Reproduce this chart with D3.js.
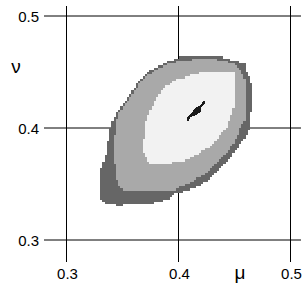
<!DOCTYPE html>
<meta charset="utf-8">
<style>
body { margin: 0; background: #fff; }
svg text { font-family: "Liberation Sans", Arial, sans-serif; fill: #000; }
.tick { font-size: 15px; }
.sym { font-size: 19px; }
</style>
<svg width="304" height="286"></svg>
<script src="https://d3js.org/d3.v7.min.js"></script>
<script>

// tick values on both axes
const muTicks = [0.3, 0.4, 0.5];
const nuTicks = [0.3, 0.4, 0.5];
const tickLabels = ["0.3", "0.4", "0.5"];

// region outlines, as [mu, nu]
const regionOuter = [
  [0.40286, 0.46429], [0.43857, 0.46384], [0.44866, 0.46027], [0.45938, 0.45777],
  [0.46116, 0.44911], [0.46518, 0.44018], [0.46518, 0.41607], [0.46384, 0.40000],
  [0.46089, 0.39375], [0.45786, 0.38929], [0.45045, 0.37884], [0.44152, 0.36848],
  [0.43259, 0.35955], [0.42071, 0.34911], [0.40875, 0.34464], [0.39688, 0.34107],
  [0.38946, 0.33571], [0.37902, 0.33304], [0.35670, 0.33125], [0.34598, 0.33080],
  [0.33438, 0.33259], [0.33080, 0.33571], [0.32991, 0.34643], [0.32991, 0.36098],
  [0.33438, 0.37295], [0.33732, 0.39080], [0.33973, 0.40268], [0.34571, 0.41455],
  [0.35223, 0.42348], [0.35821, 0.43241], [0.36411, 0.44134], [0.37304, 0.45027],
  [0.38080, 0.45446], [0.38795, 0.45830], [0.39509, 0.46027]
];
const regionMiddle = [
  [0.40286, 0.46009], [0.41741, 0.46161], [0.42964, 0.46161], [0.43857, 0.46009],
  [0.44866, 0.45777], [0.45580, 0.45179], [0.45938, 0.44286], [0.46089, 0.43393],
  [0.46027, 0.41607], [0.45938, 0.40714], [0.45643, 0.40268], [0.45045, 0.38777],
  [0.44152, 0.37589], [0.42634, 0.36098], [0.41179, 0.35205], [0.39955, 0.34643],
  [0.39688, 0.34420], [0.35223, 0.34313], [0.34777, 0.34643], [0.34482, 0.35357],
  [0.34241, 0.37143], [0.34286, 0.38929], [0.34330, 0.40268], [0.34732, 0.41429],
  [0.35402, 0.42321], [0.35982, 0.43214], [0.36563, 0.44018], [0.37455, 0.44866],
  [0.38259, 0.45313], [0.38929, 0.45670], [0.39688, 0.45848]
];
const regionInner = [
  [0.40429, 0.44438], [0.41027, 0.44732], [0.41920, 0.44938], [0.44893, 0.44938],
  [0.45045, 0.44732], [0.45045, 0.42232], [0.44777, 0.41429], [0.44598, 0.41009],
  [0.44446, 0.40268], [0.43527, 0.39107], [0.42634, 0.38214], [0.42098, 0.37946],
  [0.40848, 0.37143], [0.39688, 0.36964], [0.38795, 0.36741], [0.37723, 0.36786],
  [0.37277, 0.36991], [0.36830, 0.37884], [0.36920, 0.39375], [0.37009, 0.40268],
  [0.37455, 0.41607], [0.38054, 0.42795], [0.38795, 0.43688], [0.39688, 0.44286]
];
const regionCore = [
  [0.40732, 0.40652], [0.40732, 0.40866], [0.41179, 0.41339], [0.41473, 0.41786],
  [0.41982, 0.42054], [0.42188, 0.42411], [0.42393, 0.42411], [0.42393, 0.42205],
  [0.42009, 0.41830], [0.41982, 0.41455], [0.41625, 0.41161], [0.41089, 0.40982],
  [0.40911, 0.40652]
];

const levels = [regionOuter, regionMiddle, regionInner];
const levelColors = ["#666666", "#a9a9a9", "#f2f2f2"];
const coreColor = "#1a1a1a";

const svg = d3.select("svg");
const x = d3.scaleLinear().domain([0.3, 0.5]).range([66.5, 290.5]);
const y = d3.scaleLinear().domain([0.3, 0.5]).range([240, 16]);

// grid lines
svg.append("g").selectAll("line").data(nuTicks).join("line")
  .attr("x1", 44).attr("x2", 301)
  .attr("y1", d => y(d)).attr("y2", d => y(d))
  .attr("stroke", "#000").attr("stroke-width", 1);

svg.append("g").selectAll("line").data(muTicks).join("line")
  .attr("x1", d => x(d)).attr("x2", d => x(d))
  .attr("y1", 6).attr("y2", 262)
  .attr("stroke", "#000").attr("stroke-width", 1);

// raster of the regions, one cell per grid step
const cell = 0.002;
const cells = [];
d3.range(160, 240).forEach(i => {
  d3.range(160, 240).forEach(j => {
    const p = [(i + 0.5) * cell, (j + 0.5) * cell];
    let lev = -1;
    levels.forEach((poly, k) => { if (d3.polygonContains(poly, p)) lev = k; });
    if (lev >= 0) cells.push({ i: i, j: j, lev: lev });
  });
});

svg.append("g").attr("shape-rendering", "crispEdges")
  .selectAll("rect").data(cells).join("rect")
  .attr("x", d => x(d.i * cell))
  .attr("y", d => y((d.j + 1) * cell))
  .attr("width", d => x((d.i + 1) * cell) - x(d.i * cell))
  .attr("height", d => y(d.j * cell) - y((d.j + 1) * cell))
  .attr("fill", d => levelColors[d.lev]);

svg.append("path")
  .attr("d", d3.line().x(d => x(d[0])).y(d => y(d[1]))(regionCore) + "Z")
  .attr("fill", coreColor)
  .attr("shape-rendering", "crispEdges");

// labels
svg.append("g").selectAll("text").data(nuTicks).join("text")
  .attr("class", "tick")
  .attr("x", 39).attr("y", d => y(d) + 5.5)
  .attr("text-anchor", "end")
  .text((d, i) => tickLabels[i]);

svg.append("g").selectAll("text").data(muTicks).join("text")
  .attr("class", "tick")
  .attr("x", d => x(d) + 1).attr("y", 279)
  .attr("text-anchor", "middle")
  .text((d, i) => tickLabels[i]);

svg.append("text").attr("class", "sym")
  .attr("x", 16).attr("y", 73).attr("text-anchor", "middle").text("ν");
svg.append("text").attr("class", "sym")
  .attr("x", 240).attr("y", 279).attr("text-anchor", "middle").text("μ");

</script>
